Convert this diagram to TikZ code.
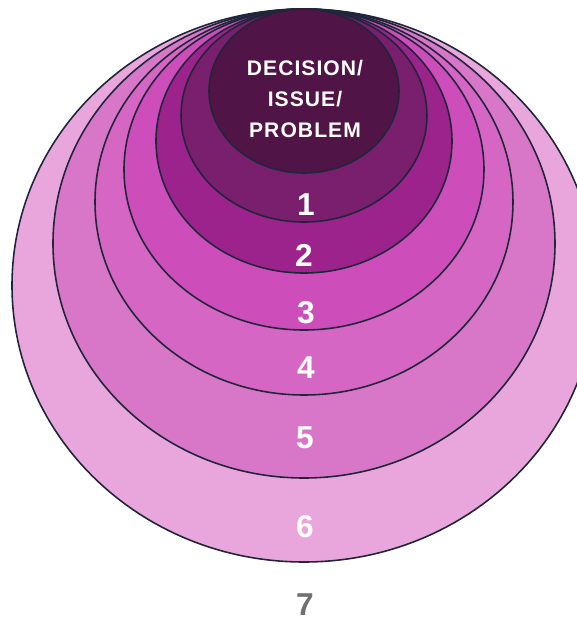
\documentclass[tikz,border=0pt]{standalone}
\usepackage{fontspec}
\setmainfont{Liberation Sans}
\usepackage{tikz}
\usetikzlibrary{shapes.geometric,positioning}

\definecolor{Rim}{RGB}{32,38,58}
\definecolor{ring0}{RGB}{80,20,70}
\definecolor{ring1}{RGB}{122,30,110}
\definecolor{ring2}{RGB}{157,35,140}
\definecolor{ring3}{RGB}{205,78,187}
\definecolor{ring4}{RGB}{213,102,195}
\definecolor{ring5}{RGB}{216,118,200}
\definecolor{ring6}{RGB}{232,166,220}
\definecolor{outside}{RGB}{112,112,112}

\tikzstyle{ring} = [ellipse, draw=Rim, line width=0.9pt, inner sep=0pt]
\tikzstyle{num} = [text=white, font=\bfseries\fontsize{18}{20}\selectfont]
\tikzstyle{core} = [text=white, align=center, font=\bfseries\fontsize{12}{17.6}\selectfont\addfontfeature{LetterSpace=5}]

\begin{document}
\begin{tikzpicture}[x=0.2mm, y=-0.2mm]
        \useasboundingbox (0,0) rectangle (577,625);
        % outermost ring first, so the smaller ones sit on top
        \foreach \i/\rx/\ry/\cy in {6/292/276.5/285.5, 5/251/234.5/243.5, 4/209/193/202, 3/180/160.5/169.5, 2/148/132/141, 1/123/106.5/115.5, 0/95/82/91}
            \node[ring, fill=ring\i, minimum width=2*\rx*0.2mm, minimum height=2*\ry*0.2mm] (ring\i) at (304,\cy) {};
        \node[core] (issue) at (305,99) {DECISION/\\ISSUE/\\PROBLEM};
        \node[num] (n1) at (306,205) {1};
        \node[num] (n2) at (304,255) {2};
        \node[num] (n3) at (306,313) {3};
        \node[num] (n4) at (306,368) {4};
        \node[num] (n5) at (305,438) {5};
        \node[num] (n6) at (305,527) {6};
        \node[num, text=outside] (n7) at (305,605) {7};
        % \draw[red] (ring0.south) -- (ring6.south);
        \end{tikzpicture}
\end{document}
